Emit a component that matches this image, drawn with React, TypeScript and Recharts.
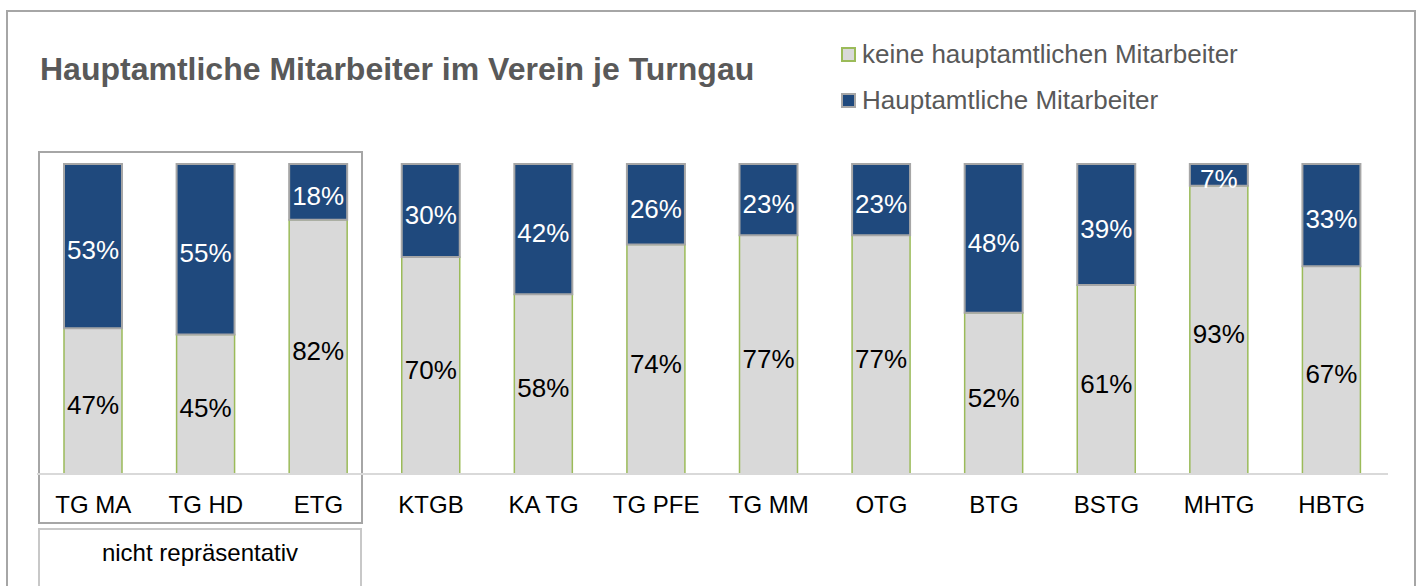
import { BarChart, Bar, XAxis, YAxis, LabelList } from "recharts";

const categories = ["TG MA", "TG HD", "ETG", "KTGB", "KA TG", "TG PFE", "TG MM", "OTG", "BTG", "BSTG", "MHTG", "HBTG"];
const keineValues = [47, 45, 82, 70, 58, 74, 77, 77, 52, 61, 93, 67];
const hauptValues = [53, 55, 18, 30, 42, 26, 23, 23, 48, 39, 7, 33];

const seriesNames = ["keine hauptamtlichen Mitarbeiter", "Hauptamtliche Mitarbeiter"];

const data = categories.map((name, i) => ({ name, keine: keineValues[i], haupt: hauptValues[i] }));

const FONT = "'Liberation Sans', Arial, sans-serif";
const GRAY_FILL = "#d9d9d9";
const GREEN = "#9bbb59";
const BLUE = "#1f497d";
const BORDER = "#a6a6a6";

function CategoryTick(props: any) {
  const { x, y, payload } = props;
  return (
    <text x={x} y={y + 31} textAnchor="middle" fontSize={24} fill="#000" fontFamily={FONT}>
      {payload.value}
    </text>
  );
}

export default function App() {
  return (
    <div style={{ position: "absolute", left: 0, top: 0, width: 1421, height: 586, overflow: "hidden", background: "#fff", fontFamily: FONT }}>
      {/* outer frame, open at the bottom */}
      <div style={{ position: "absolute", left: 6, top: 10, width: 1410, height: 2, background: BORDER }} />
      <div style={{ position: "absolute", left: 6, top: 10, width: 2, height: 600, background: BORDER }} />
      <div style={{ position: "absolute", left: 1414, top: 10, width: 2, height: 600, background: BORDER }} />

      <div style={{ position: "absolute", left: 40, top: 51, fontSize: 32, fontWeight: "bold", color: "#595959", whiteSpace: "nowrap" }}>
        Hauptamtliche Mitarbeiter im Verein je Turngau
      </div>

      {/* legend */}
      <div style={{ position: "absolute", left: 841, top: 31, color: "#595959", fontSize: 26, lineHeight: "46px" }}>
        <div style={{ display: "flex", alignItems: "center" }}>
          <span style={{ width: 11, height: 11, background: GRAY_FILL, border: `2px solid ${GREEN}`, marginRight: 6 }} />
          {seriesNames[0]}
        </div>
        <div style={{ display: "flex", alignItems: "center" }}>
          <span style={{ width: 11, height: 11, background: BLUE, border: `2px solid ${BORDER}`, marginRight: 6 }} />
          {seriesNames[1]}
        </div>
      </div>

      {/* group boxes */}
      <div style={{ position: "absolute", left: 38, top: 151, width: 321, height: 369, border: `2px solid ${BORDER}` }} />
      <div style={{ position: "absolute", left: 38, top: 528, width: 320, height: 80, border: "2px solid #c8c8c8" }}>
        <div style={{ textAlign: "center", fontSize: 24, marginTop: 9, color: "#000" }}>nicht repräsentativ</div>
      </div>

      <div style={{ position: "absolute", left: 0, top: 0 }}>
        <BarChart width={1421} height={586} data={data} margin={{ top: 164, right: 33, bottom: 82, left: 37 }}>
          <YAxis hide domain={[0, 100]} />
          <XAxis
            dataKey="name"
            axisLine={{ stroke: "#d9d9d9", strokeWidth: 2 }}
            tickLine={false}
            tick={<CategoryTick />}
            interval={0}
          />
          <Bar dataKey="keine" stackId="a" fill={GRAY_FILL} stroke={GREEN} strokeWidth={1.5} barSize={58} isAnimationActive={false}>
            <LabelList dataKey="keine" position="center" formatter={(v: any) => `${v}%`} fill="#000" fontSize={26} fontFamily={FONT} dy={4} />
          </Bar>
          <Bar dataKey="haupt" stackId="a" fill={BLUE} stroke={BORDER} strokeWidth={2} barSize={58} isAnimationActive={false}>
            <LabelList dataKey="haupt" position="center" formatter={(v: any) => `${v}%`} fill="#fff" fontSize={26} fontFamily={FONT} dy={4} />
          </Bar>
        </BarChart>
      </div>
    </div>
  );
}
